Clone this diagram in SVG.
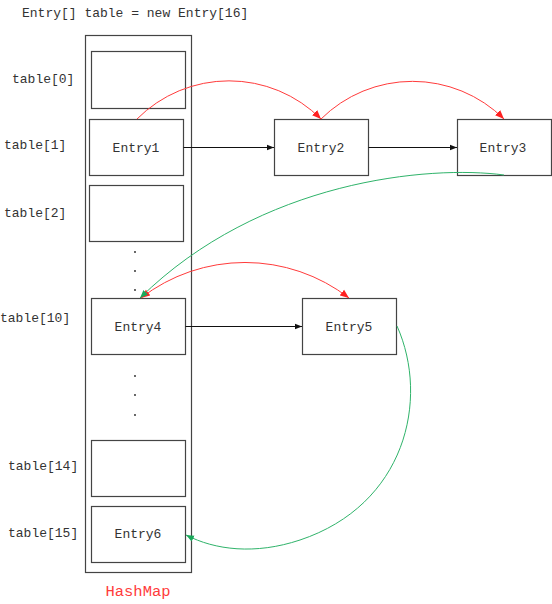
<svg xmlns="http://www.w3.org/2000/svg" width="552" height="604" viewBox="0 0 552 604">
<style>
.box{fill:#fff;stroke:#444;stroke-width:1.2}
.t{font-family:"Liberation Mono","DejaVu Sans Mono",monospace;font-size:13px;fill:#333}
.c{text-anchor:middle;dominant-baseline:central}
.blk{fill:none;stroke:#111;stroke-width:1}
.red{fill:none;stroke:#ff3b3b;stroke-width:1}
.grn{fill:none;stroke:#2fb36a;stroke-width:1}
.dot{fill:#222}
</style>
<defs>
<marker id="ab" viewBox="0 0 10 10" refX="10" refY="5" markerWidth="7" markerHeight="7" markerUnits="userSpaceOnUse" orient="auto"><path d="M0,1 L10,5 L0,9 z" fill="#111"/></marker>
<marker id="ar" viewBox="0 0 10 10" refX="10" refY="5" markerWidth="9" markerHeight="9" markerUnits="userSpaceOnUse" orient="auto"><path d="M0,1 L10,5 L0,9 z" fill="#ff2020"/></marker>
<marker id="ars" viewBox="0 0 10 10" refX="0" refY="5" markerWidth="9" markerHeight="9" markerUnits="userSpaceOnUse" orient="auto"><path d="M10,1 L0,5 L10,9 z" fill="#ff2020"/></marker>
<marker id="ag" viewBox="0 0 10 10" refX="10" refY="5" markerWidth="8" markerHeight="8" markerUnits="userSpaceOnUse" orient="auto"><path d="M0,1 L10,5 L0,9 z" fill="#1aa85a"/></marker>
</defs>
<text class="t" x="22" y="17">Entry[] table = new Entry[16]</text>
<g id="hashmap">
<rect x="85.5" y="35.5" width="106" height="537" fill="none" stroke="#444" stroke-width="1.2"/>
<text x="138" y="592" text-anchor="middle" dominant-baseline="central" style="font-family:'Liberation Mono','DejaVu Sans Mono',monospace;font-size:15.5px;fill:#ff3b3b">HashMap</text>
</g>
<g id="labels">
<text class="t" x="12" y="83">table[0]</text>
<text class="t" x="4" y="149">table[1]</text>
<text class="t" x="4" y="217">table[2]</text>
<text class="t" x="0" y="322">table[10]</text>
<text class="t" x="8" y="470">table[14]</text>
<text class="t" x="8" y="537">table[15]</text>
</g>
<g id="table0"><rect class="box" x="91.5" y="51.5" width="94" height="57"/></g>
<g id="entry1"><rect class="box" x="89.5" y="119.5" width="94" height="56"/><text class="t c" x="136" y="148">Entry1</text></g>
<g id="table2"><rect class="box" x="89.5" y="185.5" width="94" height="56"/></g>
<g id="dots1"><circle class="dot" cx="135" cy="252" r="0.9"/><circle class="dot" cx="135" cy="271" r="0.9"/><circle class="dot" cx="135" cy="290" r="0.9"/></g>
<g id="entry4"><rect class="box" x="91.5" y="298.5" width="94" height="56"/><text class="t c" x="138" y="327">Entry4</text></g>
<g id="dots2"><circle class="dot" cx="135" cy="376" r="0.9"/><circle class="dot" cx="135" cy="395" r="0.9"/><circle class="dot" cx="135" cy="415" r="0.9"/></g>
<g id="table14"><rect class="box" x="91.5" y="440.5" width="94" height="56"/></g>
<g id="entry6"><rect class="box" x="91.5" y="506.5" width="94" height="56"/><text class="t c" x="138" y="534">Entry6</text></g>
<g id="entry2"><rect class="box" x="274.5" y="119.5" width="94" height="56"/><text class="t c" x="321" y="148">Entry2</text></g>
<g id="entry3"><rect class="box" x="457.5" y="119.5" width="94" height="56"/><text class="t c" x="503" y="148">Entry3</text></g>
<g id="entry5"><rect class="box" x="302.5" y="298.5" width="94" height="56"/><text class="t c" x="349" y="327">Entry5</text></g>
<g id="connectors">
<path class="blk" d="M183.5,147.5 L274,147.5" marker-end="url(#ab)"/>
<path class="blk" d="M368.5,147.5 L457,147.5" marker-end="url(#ab)"/>
<path class="blk" d="M185.5,326.5 L302,326.5" marker-end="url(#ab)"/>
<path class="red" d="M137,119 A130,130 0 0 1 321,119" marker-end="url(#ar)"/>
<path class="red" d="M321,119 A130,130 0 0 1 504,119" marker-end="url(#ar)"/>
<path class="red" d="M141,298 A170,170 0 0 1 349,298" marker-start="url(#ars)" marker-end="url(#ar)"/>
<path class="grn" d="M504,175 C430,165 260,180 140,298" marker-end="url(#ag)"/>
<path class="grn" d="M397,326 C430,400 405,505 300,540 C255,555 215,550 186,535" marker-end="url(#ag)"/>
</g>
</svg>
